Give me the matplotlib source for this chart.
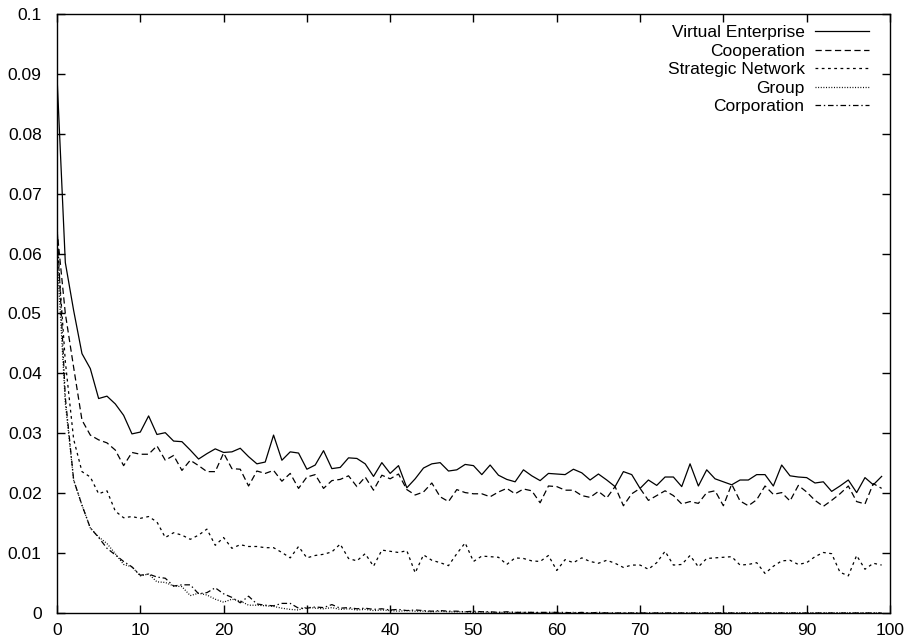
import matplotlib
matplotlib.use("Agg")
import matplotlib.pyplot as plt
import numpy as np

plt.rcParams['font.family'] = ['Liberation Sans', 'DejaVu Sans']
plt.rcParams['lines.scale_dashes'] = False

# generation index 0..99
steps = np.arange(100)

virtual_enterprise = [
    0.0897, 0.0585, 0.0505, 0.0433, 0.0408, 0.0358, 0.0362, 0.0349, 0.0330, 0.0299,
    0.0302, 0.0329, 0.0298, 0.0301, 0.0287, 0.0286, 0.0272, 0.0257, 0.0266, 0.0274,
    0.0268, 0.0269, 0.0275, 0.0261, 0.0249, 0.0252, 0.0297, 0.0255, 0.0269, 0.0267,
    0.0240, 0.0247, 0.0271, 0.0241, 0.0243, 0.0259, 0.0258, 0.0249, 0.0228, 0.0251,
    0.0233, 0.0246, 0.0209, 0.0224, 0.0242, 0.0249, 0.0251, 0.0237, 0.0239, 0.0248,
    0.0246, 0.0231, 0.0247, 0.0230, 0.0223, 0.0219, 0.0239, 0.0229, 0.0221, 0.0233,
    0.0232, 0.0231, 0.0240, 0.0234, 0.0222, 0.0232, 0.0222, 0.0211, 0.0236, 0.0231,
    0.0208, 0.0222, 0.0213, 0.0227, 0.0227, 0.0211, 0.0249, 0.0212, 0.0239, 0.0224,
    0.0219, 0.0214, 0.0222, 0.0222, 0.0231, 0.0231, 0.0212, 0.0247, 0.0229, 0.0227,
    0.0226, 0.0217, 0.0219, 0.0203, 0.0212, 0.0222, 0.0201, 0.0226, 0.0214, 0.0228]

cooperation = [
    0.0640, 0.0500, 0.0410, 0.0322, 0.0297, 0.0289, 0.0284, 0.0272, 0.0246, 0.0268,
    0.0265, 0.0265, 0.0279, 0.0255, 0.0263, 0.0238, 0.0255, 0.0246, 0.0236, 0.0236,
    0.0267, 0.0241, 0.0240, 0.0212, 0.0237, 0.0233, 0.0238, 0.0220, 0.0233, 0.0208,
    0.0227, 0.0231, 0.0208, 0.0221, 0.0223, 0.0229, 0.0211, 0.0227, 0.0205, 0.0230,
    0.0224, 0.0232, 0.0206, 0.0197, 0.0202, 0.0217, 0.0194, 0.0186, 0.0206, 0.0201,
    0.0199, 0.0199, 0.0194, 0.0202, 0.0208, 0.0199, 0.0207, 0.0204, 0.0184, 0.0212,
    0.0211, 0.0205, 0.0205, 0.0196, 0.0193, 0.0203, 0.0192, 0.0211, 0.0179, 0.0199,
    0.0208, 0.0188, 0.0196, 0.0204, 0.0196, 0.0182, 0.0186, 0.0183, 0.0201, 0.0204,
    0.0179, 0.0215, 0.0187, 0.0179, 0.0189, 0.0212, 0.0198, 0.0201, 0.0187, 0.0213,
    0.0202, 0.0188, 0.0178, 0.0188, 0.0199, 0.0212, 0.0186, 0.0182, 0.0216, 0.0208]

strategic_network = [
    0.0620, 0.0420, 0.0290, 0.0236, 0.0227, 0.0199, 0.0204, 0.0170, 0.0159, 0.0161,
    0.0158, 0.0161, 0.0152, 0.0126, 0.0134, 0.0130, 0.0123, 0.0130, 0.0140, 0.0113,
    0.0126, 0.0108, 0.0114, 0.0111, 0.0111, 0.0109, 0.0109, 0.0101, 0.0092, 0.0111,
    0.0092, 0.0096, 0.0098, 0.0102, 0.0115, 0.0091, 0.0087, 0.0099, 0.0078, 0.0105,
    0.0103, 0.0101, 0.0104, 0.0067, 0.0097, 0.0088, 0.0084, 0.0079, 0.0099, 0.0117,
    0.0086, 0.0095, 0.0094, 0.0093, 0.0081, 0.0092, 0.0091, 0.0087, 0.0086, 0.0096,
    0.0071, 0.0089, 0.0084, 0.0092, 0.0086, 0.0083, 0.0088, 0.0083, 0.0076, 0.0080,
    0.0080, 0.0073, 0.0084, 0.0103, 0.0080, 0.0081, 0.0096, 0.0077, 0.0091, 0.0092,
    0.0093, 0.0094, 0.0080, 0.0081, 0.0084, 0.0066, 0.0078, 0.0087, 0.0088, 0.0081,
    0.0084, 0.0094, 0.0101, 0.0099, 0.0068, 0.0062, 0.0096, 0.0073, 0.0083, 0.0080]

group = [
    0.0600, 0.0350, 0.0222, 0.0180, 0.0142, 0.0127, 0.0116, 0.0099, 0.0081, 0.0077,
    0.0062, 0.0065, 0.0052, 0.0051, 0.0045, 0.0044, 0.0029, 0.0033, 0.0030, 0.0023,
    0.0018, 0.0023, 0.0020, 0.0013, 0.0013, 0.0012, 0.0011, 0.0008, 0.0006, 0.0005,
    0.0010, 0.0008, 0.0007, 0.0009, 0.0006, 0.0007, 0.0005, 0.0006, 0.0004, 0.0005,
    0.0004, 0.0003, 0.0004, 0.0003, 0.0003, 0.0002, 0.0003, 0.0002, 0.0002, 0.0002,
    0.0001, 0.0002, 0.0001, 0.0001, 0.0001, 0.0001, 0.0001, 0.0001, 0.0000, 0.0001,
    0.0001, 0.0000, 0.0001, 0.0000, 0.0000, 0.0001, 0.0000, 0.0000, 0.0000, 0.0000,
    0.0000, 0.0000, 0.0000, 0.0000, 0.0000, 0.0000, 0.0000, 0.0000, 0.0000, 0.0000,
    0.0000, 0.0000, 0.0000, 0.0000, 0.0000, 0.0000, 0.0000, 0.0000, 0.0000, 0.0000,
    0.0000, 0.0000, 0.0000, 0.0000, 0.0000, 0.0000, 0.0000, 0.0000, 0.0000, 0.0000]

corporation = [
    0.0650, 0.0360, 0.0222, 0.0180, 0.0142, 0.0126, 0.0108, 0.0097, 0.0086, 0.0077,
    0.0063, 0.0065, 0.0060, 0.0058, 0.0045, 0.0047, 0.0047, 0.0032, 0.0034, 0.0042,
    0.0032, 0.0026, 0.0017, 0.0028, 0.0015, 0.0013, 0.0012, 0.0016, 0.0016, 0.0008,
    0.0008, 0.0010, 0.0009, 0.0014, 0.0008, 0.0009, 0.0007, 0.0008, 0.0006, 0.0007,
    0.0005, 0.0006, 0.0004, 0.0005, 0.0004, 0.0003, 0.0004, 0.0003, 0.0003, 0.0002,
    0.0003, 0.0002, 0.0002, 0.0001, 0.0002, 0.0001, 0.0001, 0.0001, 0.0001, 0.0001,
    0.0001, 0.0001, 0.0000, 0.0001, 0.0000, 0.0001, 0.0000, 0.0000, 0.0000, 0.0000,
    0.0000, 0.0000, 0.0000, 0.0000, 0.0000, 0.0000, 0.0000, 0.0000, 0.0000, 0.0000,
    0.0000, 0.0000, 0.0000, 0.0000, 0.0000, 0.0000, 0.0000, 0.0000, 0.0000, 0.0000,
    0.0000, 0.0000, 0.0000, 0.0000, 0.0000, 0.0000, 0.0000, 0.0000, 0.0000, 0.0000]

x_ticks = [0, 10, 20, 30, 40, 50, 60, 70, 80, 90, 100]
y_ticks = [0, 0.01, 0.02, 0.03, 0.04, 0.05, 0.06, 0.07, 0.08, 0.09, 0.1]
y_labels = ['0', '0.01', '0.02', '0.03', '0.04', '0.05', '0.06', '0.07', '0.08', '0.09', '0.1']

fig = plt.figure(figsize=(9.06, 6.42), dpi=100)
ax = fig.add_axes([0.0629, 0.0452, 0.9194, 0.9330])

lw = 0.9
ax.plot(steps, virtual_enterprise, color='black', lw=lw, label='Virtual Enterprise')
ax.plot(steps, cooperation, color='black', lw=lw, dashes=(4.5, 2.5), label='Cooperation')
ax.plot(steps, strategic_network, color='black', lw=lw, dashes=(2.0, 2.5), label='Strategic Network')
ax.plot(steps, group, color='black', lw=lw, dashes=(0.7, 1.2), label='Group')
ax.plot(steps, corporation, color='black', lw=lw, dashes=(4.0, 2.0, 1.0, 2.0), label='Corporation')

ax.set_xlim(0, 100)
ax.set_ylim(0, 0.1)
ax.set_xticks(x_ticks)
ax.set_yticks(y_ticks)
ax.set_yticklabels(y_labels)
ax.tick_params(direction='in', length=6, width=1, top=True, right=True,
               labelsize=12.5, colors='black')
ax.tick_params(axis='y', pad=11)
ax.tick_params(axis='x', pad=7)
for s in ax.spines.values():
    s.set_linewidth(1)

leg = ax.legend(loc='upper right', frameon=False, markerfirst=False,
                fontsize=12.5, handlelength=3.1, handletextpad=0.6,
                labelspacing=0.19, borderaxespad=0.0,
                bbox_to_anchor=(0.983, 0.993))

fig.savefig('out.png', dpi=100)
